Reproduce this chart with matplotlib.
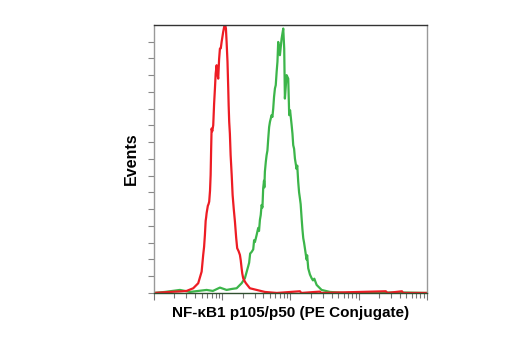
import matplotlib
matplotlib.use("Agg")
import matplotlib.pyplot as plt
import numpy as np
from matplotlib.ticker import LogLocator, NullFormatter

# histogram traces: log10 fluorescence channel and events per channel
red_log = [0.0, 0.234, 0.381, 0.479, 0.576, 0.649, 0.699, 0.722, 0.735, 0.747,
           0.758, 0.765, 0.772, 0.790, 0.800, 0.810, 0.822, 0.831, 0.838, 0.845,
           0.855, 0.869, 0.882, 0.894, 0.905, 0.919, 0.930, 0.942, 0.955, 0.967,
           0.980, 0.992, 1.015, 1.040, 1.055, 1.065, 1.078, 1.089, 1.095, 1.103,
           1.113, 1.124, 1.140, 1.153, 1.170, 1.187, 1.205, 1.220, 1.240, 1.260,
           1.272, 1.285, 1.295, 1.308, 1.330, 1.348, 1.406, 1.505, 1.626, 1.800,
           2.139, 2.160, 2.432, 2.450, 3.399, 3.420, 3.634, 3.650, 4.0]
red_events = [0, 0.6, 0.9, 1.2, 2.8, 5.8, 12.7, 22.7, 27.5, 34.6,
              43.0, 45.0, 47.6, 52.0, 53.0, 54.5, 61.0, 70.4, 85.0, 98.1,
              96.5, 100.1, 113.0, 122.0, 131.0, 135.9, 131.0, 127.9, 139.5, 145.8,
              146.0, 149.8, 155.8, 161.0, 157.8, 149.8, 138.0, 122.0, 112.0, 102.1,
              95.0, 82.2, 70.0, 58.5, 50.0, 42.6, 33.0, 26.7, 25.0, 22.7,
              19.5, 14.7, 11.5, 8.8, 7.0, 5.8, 2.8, 1.8, 0.6, 0,
              1.0, 0, 0.8, 0, 1.0, 0, 1.0, 0, 0]

green_log = [0.0, 0.161, 0.381, 0.527, 0.772, 0.864, 0.967, 1.065, 1.143, 1.212,
             1.285, 1.333, 1.382, 1.395, 1.410, 1.432, 1.455, 1.468, 1.480, 1.505,
             1.528, 1.540, 1.553, 1.565, 1.578, 1.590, 1.601, 1.613, 1.618, 1.626,
             1.640, 1.651, 1.663, 1.675, 1.688, 1.700, 1.724, 1.736, 1.748, 1.760,
             1.773, 1.785, 1.798, 1.810, 1.821, 1.846, 1.871, 1.895, 1.909, 1.919,
             1.944, 1.968, 1.982, 1.995, 2.018, 2.030, 2.041, 2.054, 2.066, 2.090,
             2.100, 2.114, 2.127, 2.139, 2.150, 2.164, 2.176, 2.188, 2.200, 2.212,
             2.236, 2.245, 2.261, 2.286, 2.311, 2.330, 2.350, 2.384, 2.457, 2.579,
             2.799, 3.604, 4.0]
green_events = [0, 0.6, 1.8, 0.6, 1.8, 1.2, 3.2, 1.8, 2.4, 2.8,
                5.8, 8.8, 16.0, 18.0, 23.5, 24.5, 26.0, 31.5, 30.4, 34.6,
                38.8, 37.0, 43.6, 46.5, 52.5, 51.0, 62.5, 67.0, 63.0, 72.4,
                78.5, 82.2, 85.0, 92.1, 99.0, 102.1, 106.1, 105.0, 110.0, 117.0,
                122.0, 124.0, 131.9, 138.0, 149.8, 141.9, 151.8, 157.8, 145.8, 116.0,
                130.0, 127.9, 106.1, 109.0, 100.1, 95.0, 88.2, 86.0, 80.2, 74.0,
                76.0, 66.4, 60.0, 56.5, 53.0, 44.6, 38.0, 32.7, 30.0, 26.7,
                20.0, 22.5, 14.7, 11.0, 8.8, 7.5, 8.5, 4.8, 1.8, 0.6,
                0, 0.3, 0]

x_label = "NF-\u03baB1 p105/p50 (PE Conjugate)"
y_label = "Events"

plt.rcParams['font.family'] = ['Liberation Sans', 'DejaVu Sans']

fig = plt.figure(figsize=(5.2, 3.5), dpi=100)
ax = fig.add_axes([0.296, 0.163, 0.525, 0.766])

ax.plot(10 ** np.array(green_log), green_events, color="#3cb54a", lw=1.6)
ax.plot(10 ** np.array(red_log), red_events, color="#ed1c24", lw=1.6)

ax.set_xscale("log")
ax.set_xlim(1, 1e4)
ax.set_ylim(0, 160)

# ticks without labels, pointing out
ax.xaxis.set_major_locator(LogLocator(base=10))
ax.xaxis.set_minor_locator(LogLocator(base=10, subs=np.arange(2, 10)))
ax.xaxis.set_major_formatter(NullFormatter())
ax.xaxis.set_minor_formatter(NullFormatter())
ax.set_yticks(np.arange(0, 151, 10))
ax.set_yticklabels([])
ax.tick_params(axis="x", which="major", length=5, width=0.8, color="#777777", direction="out")
ax.tick_params(axis="x", which="minor", length=3.5, width=0.8, color="#777777", direction="out")
ax.tick_params(axis="y", length=4.5, width=0.8, color="#888888", direction="out")

ax.spines["top"].set_color("#333333")
ax.spines["left"].set_color("#999999")
ax.spines["right"].set_color("#999999")
ax.spines["bottom"].set_color("#2f4f2f")
for s in ax.spines.values():
    s.set_linewidth(1.0)

ax.set_xlabel(x_label, fontsize=11, fontweight="bold")
ax.set_ylabel(y_label, fontsize=11.5, fontweight="bold")
ax.xaxis.set_label_coords(0.5, -0.075)
ax.yaxis.set_label_coords(-0.084, 0.5)
ax.xaxis.label.set_va("center")
ax.yaxis.label.set_va("center")

fig.savefig("out.png", dpi=100)
